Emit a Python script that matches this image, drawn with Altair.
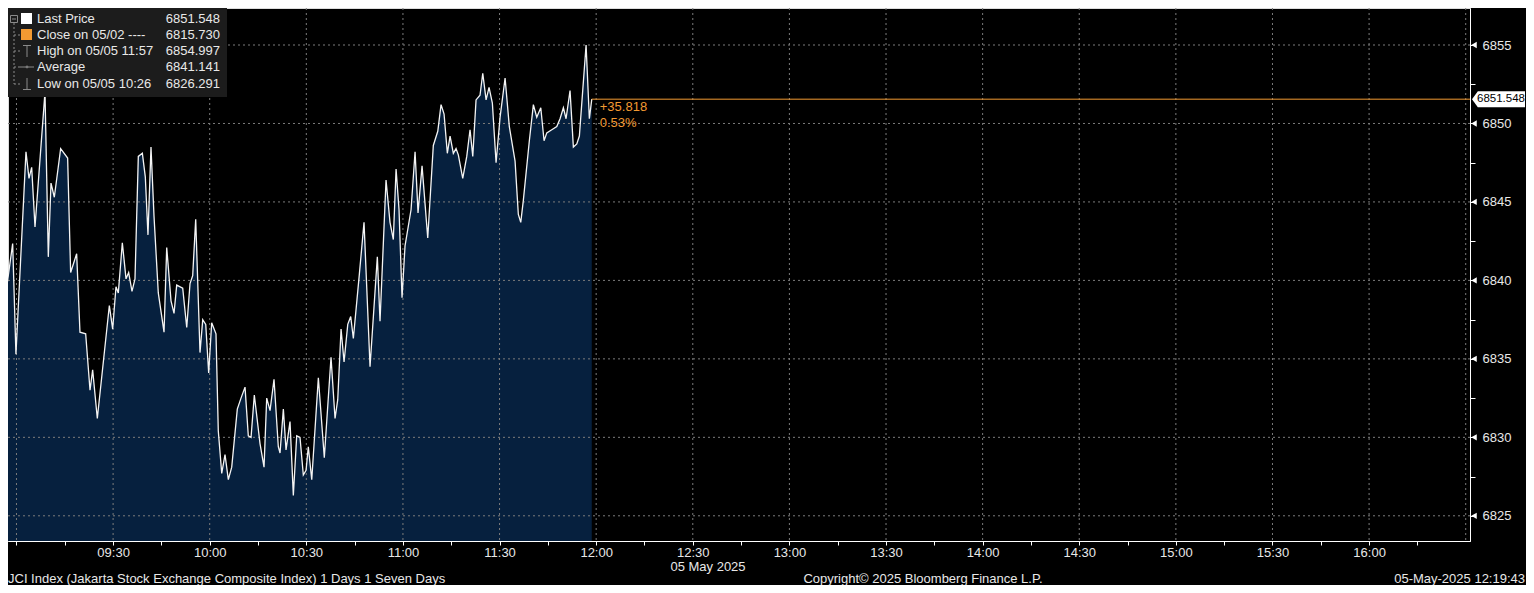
import altair as alt
import pandas as pd

DAY = "2025-05-05"

# ---- series (time of day, index level) ----
times = [
    "08:55:00", "08:58:49", "08:59:50", "09:02:57", "09:03:53", "09:04:43", "09:05:45", "09:08:51",
    "09:09:53", "09:10:43", "09:11:45", "09:13:43", "09:15:53", "09:16:49", "09:18:41", "09:19:43",
    "09:21:29", "09:22:50", "09:23:39", "09:25:06", "09:28:50", "09:29:52", "09:30:54", "09:31:37",
    "09:32:52", "09:34:01", "09:34:50", "09:35:52", "09:36:48", "09:37:50", "09:39:05", "09:40:00",
    "09:40:50", "09:41:46", "09:42:42", "09:44:02", "09:45:49", "09:46:39", "09:47:59", "09:48:55",
    "09:49:45", "09:51:37", "09:52:52", "09:53:53", "09:54:43", "09:55:39", "09:56:59", "09:57:50",
    "09:58:46", "09:59:41", "10:00:37", "10:01:57", "10:02:40", "10:03:44", "10:04:45", "10:05:47",
    "10:06:50", "10:08:34", "10:09:43", "10:10:58", "10:11:59", "10:12:50", "10:13:51", "10:15:37",
    "10:16:52", "10:17:42", "10:18:44", "10:19:58", "10:21:18", "10:21:50", "10:22:52", "10:23:42",
    "10:24:56", "10:25:58", "10:27:01", "10:28:02", "10:29:04", "10:29:55", "10:30:37", "10:31:41",
    "10:33:44", "10:35:35", "10:37:40", "10:38:55", "10:39:45", "10:40:47", "10:41:43", "10:42:52",
    "10:43:47", "10:44:36", "10:46:28", "10:47:55", "10:49:47", "10:52:03", "10:52:53", "10:54:45",
    "10:55:59", "10:57:01", "10:57:52", "10:58:47", "10:59:43", "11:00:39", "11:02:31", "11:03:46",
    "11:04:41", "11:05:56", "11:07:42", "11:09:26", "11:10:49", "11:11:50", "11:12:46", "11:13:47",
    "11:14:38", "11:15:39", "11:16:29", "11:17:12", "11:18:34", "11:19:49", "11:20:50", "11:21:41",
    "11:22:42", "11:23:56", "11:24:47", "11:25:49", "11:26:44", "11:27:46", "11:28:55", "11:30:10",
    "11:31:43", "11:33:02", "11:34:49", "11:35:50", "11:36:35", "11:37:23", "11:39:15", "11:40:30",
    "11:41:33", "11:42:48", "11:43:49", "11:44:40", "11:46:13", "11:47:46", "11:48:47", "11:49:49",
    "11:50:39", "11:51:53", "11:52:55", "11:53:59", "11:54:47", "11:56:52", "11:57:53", "11:58:38",
]
prices = [
    6836.6, 6842.35, 6835.3, 6848.2, 6846.5, 6847.2, 6843.4, 6852.0,
    6841.5, 6846.2, 6845.3, 6848.4, 6847.8, 6840.5, 6841.7, 6836.7,
    6836.6, 6833.0, 6834.3, 6831.2, 6838.4, 6836.9, 6839.6, 6839.2,
    6842.4, 6840.1, 6840.5, 6839.3, 6840.1, 6847.9, 6848.1, 6846.6,
    6842.9, 6848.5, 6844.1, 6839.2, 6836.7, 6842.1, 6838.7, 6837.9,
    6839.7, 6839.5, 6837.0, 6839.8, 6840.3, 6843.9, 6835.4, 6837.5,
    6837.2, 6834.1, 6837.3, 6836.6, 6830.4, 6827.7, 6828.9, 6827.3,
    6828.1, 6831.8, 6832.5, 6833.2, 6830.1, 6830.0, 6832.7, 6829.6,
    6828.1, 6832.5, 6831.7, 6833.7, 6829.4, 6829.0, 6831.8, 6829.2,
    6831.0, 6826.3, 6830.1, 6830.0, 6827.6, 6827.9, 6829.4, 6827.3,
    6833.8, 6828.7, 6835.1, 6831.2, 6832.4, 6836.9, 6834.8, 6837.2,
    6837.7, 6836.3, 6840.4, 6843.7, 6834.5, 6841.5, 6837.4, 6846.4,
    6843.7, 6842.6, 6847.1, 6844.5, 6838.9, 6842.2, 6844.5, 6848.2,
    6844.3, 6847.3, 6842.7, 6848.6, 6849.5, 6851.2, 6850.6, 6848.1,
    6849.2, 6848.1, 6848.4, 6848.0, 6846.5, 6847.9, 6849.6, 6847.9,
    6851.5, 6851.8, 6853.2, 6851.5, 6852.3, 6851.3, 6847.5, 6850.4,
    6852.9, 6849.8, 6847.6, 6844.2, 6843.7, 6845.1, 6848.9, 6851.2,
    6850.4, 6851.0, 6848.9, 6849.4, 6849.6, 6849.8, 6850.3, 6851.0,
    6850.3, 6852.1, 6848.5, 6848.7, 6849.2, 6855.0, 6850.3, 6851.548,
]

last_time = "11:58:38"
last_price = 6851.548
last_price_text = "6851.548"
change_abs = "+35.818"
change_pct = "0.53%"

x_domain = ["08:57:22", "16:31:20"]
y_domain = [6823.394, 6857.358]

grid_times = ["09:00", "09:30", "10:00", "10:30", "11:00", "11:30", "12:00", "12:30",
              "13:00", "13:30", "14:00", "14:30", "15:00", "15:30", "16:00", "16:30"]
tick_times = ["09:00", "09:15", "09:30", "09:45", "10:00", "10:15", "10:30", "10:45",
              "11:00", "11:15", "11:30", "11:45", "12:00", "12:15", "12:30", "12:45",
              "13:00", "13:15", "13:30", "13:45", "14:00", "14:15", "14:30", "14:45",
              "15:00", "15:15", "15:30", "15:45", "16:00", "16:15"]
x_labels = ["09:30", "10:00", "10:30", "11:00", "11:30", "12:00", "12:30",
            "13:00", "13:30", "14:00", "14:30", "15:00", "15:30", "16:00"]
y_grid = [6825, 6830, 6835, 6840, 6845, 6850, 6855]
y_ticks = [6825, 6827.5, 6830, 6832.5, 6835, 6837.5, 6840, 6842.5, 6845, 6847.5,
           6850, 6852.5, 6855, 6857.5]

legend_names = ["Last Price", "Close on 05/02 ----", "High on 05/05 11:57", "Average", "Low on 05/05 10:26"]
legend_values = ["6851.548", "6815.730", "6854.997", "6841.141", "6826.291"]

date_label = "05 May 2025"
footer_left = "JCI Index (Jakarta Stock Exchange Composite Index) 1 Days 1 Seven Days"
footer_mid = "Copyright\u00a9 2025 Bloomberg Finance L.P."
footer_right = "05-May-2025 12:19:43"

# ---- styling ----
W, H = 1462, 533
FONT = "Liberation Sans"
BG = "#000000"
AREA = "#06203e"
LINE = "#f4f4f4"
GRID = "#7c7c7c"
ORANGE = "#f39a32"
TXT = "#e8e8e8"
LEG_BG = "#1c1c1c"
ICON = "#8a8a8a"


def ts(s):
    return f"{DAY}T{s}" if len(s) == 8 else f"{DAY}T{s}:00"


def dt(s):
    parts = [int(v) for v in s.split(":")]
    while len(parts) < 3:
        parts.append(0)
    return alt.DateTime(year=2025, month=5, date=5, hours=parts[0], minutes=parts[1], seconds=parts[2])


xscale = alt.Scale(domain=[dt(x_domain[0]), dt(x_domain[1])])
yscale = alt.Scale(domain=y_domain, zero=False, nice=False)

label_list = "[" + ",".join(f"'{s}'" for s in x_labels) + "]"
xaxis = alt.Axis(
    orient="bottom", values=[dt(s) for s in tick_times], title=None, grid=False,
    labelExpr=f"indexof({label_list}, timeFormat(datum.value, '%H:%M')) >= 0 ? timeFormat(datum.value, '%H:%M') : ''",
    tickSize=4, tickColor="#ffffff", domainColor="#ffffff", domainWidth=1,
    labelColor=TXT, labelFont=FONT, labelFontSize=13, labelPadding=1,
    labelOverlap=False, labelFlush=False,
)
yaxis = alt.Axis(
    orient="right", values=y_ticks, title=None, grid=False,
    labelExpr="datum.value % 5 == 0 ? format(datum.value, 'd') : ''",
    tickSize=5, tickColor="#ffffff", domainColor="#ffffff", domainWidth=1,
    labelColor=TXT, labelFont=FONT, labelFontSize=13, labelPadding=7,
    labelOverlap=False, labelFlush=False,
)

X = alt.X("t:T", scale=xscale, axis=xaxis)
Y = alt.Y("p:Q", scale=yscale, axis=yaxis)

df = pd.DataFrame({"t": [ts(s) for s in times], "p": prices})
df_last = pd.DataFrame({"t": [ts(last_time)], "p": [last_price],
                        "a": [change_abs], "c": [change_pct], "l": [last_price_text]})

layers = []

# area fill under the price line
layers.append(alt.Chart(df).mark_area(color=AREA, clip=True).encode(x=X, y=Y, y2=alt.value(H)))

# dotted grid
layers.append(
    alt.Chart(pd.DataFrame({"t": [ts(s) for s in grid_times]}))
    .mark_rule(color=GRID, strokeDash=[2, 3], strokeWidth=1)
    .encode(x=X, y=alt.value(0), y2=alt.value(H))
)
layers.append(
    alt.Chart(pd.DataFrame({"p": y_grid}))
    .mark_rule(color=GRID, strokeDash=[2, 3], strokeWidth=1)
    .encode(y=Y, x=alt.value(0), x2=alt.value(W))
)

# price line
layers.append(alt.Chart(df).mark_line(color=LINE, strokeWidth=1.3, clip=True).encode(x=X, y=Y))

# last price orange line and change texts
layers.append(
    alt.Chart(df_last).mark_rule(color=ORANGE, strokeWidth=1)
    .encode(x=X, x2=alt.value(W), y=Y)
)
layers.append(
    alt.Chart(df_last).mark_text(align="left", baseline="middle", dx=8, dy=8,
                                 color=ORANGE, font=FONT, fontSize=13)
    .encode(x=X, y=Y, text="a:N")
)
layers.append(
    alt.Chart(df_last).mark_text(align="left", baseline="middle", dx=8, dy=24,
                                 color=ORANGE, font=FONT, fontSize=13)
    .encode(x=X, y=Y, text="c:N")
)

# major tick triangles on the right axis
layers.append(
    alt.Chart(pd.DataFrame({"p": y_grid}))
    .mark_point(shape="triangle-left", filled=True, color="#ffffff", size=40, opacity=1)
    .encode(y=Y, x=alt.value(W + 4))
)

# last price tag
TAG = "M -1 0 L -0.78 -0.3 L 1 -0.3 L 1 0.3 L -0.78 0.3 Z"
layers.append(
    alt.Chart(df_last).mark_point(shape=TAG, filled=True, color="#ffffff", size=2809, opacity=1, strokeWidth=0)
    .encode(y=Y, x=alt.value(1490.5))
)
layers.append(
    alt.Chart(df_last).mark_text(align="left", baseline="middle", color="#000000", font=FONT, fontSize=11.5)
    .encode(y=Y, x=alt.value(1469), text="l:N")
)

# legend box
one = pd.DataFrame({"k": [0]})
layers.append(
    alt.Chart(one).mark_rect(color=LEG_BG)
    .encode(x=alt.value(0), x2=alt.value(219), y=alt.value(0), y2=alt.value(89))
)
row_y = [11, 27, 43, 59, 76]
for name, val, yy in zip(legend_names, legend_values, row_y):
    layers.append(
        alt.Chart(pd.DataFrame({"s": [name]})).mark_text(align="left", baseline="middle", color=TXT,
                                                         font=FONT, fontSize=13)
        .encode(x=alt.value(29), y=alt.value(yy), text="s:N")
    )
    layers.append(
        alt.Chart(pd.DataFrame({"s": [val]})).mark_text(align="right", baseline="middle", color=TXT,
                                                        font=FONT, fontSize=13)
        .encode(x=alt.value(212), y=alt.value(yy), text="s:N")
    )

# legend icons
def seg(x1, y1, x2, y2, color=ICON, dash=None, w=1):
    kw = dict(color=color, strokeWidth=w)
    if dash:
        kw["strokeDash"] = dash
    return alt.Chart(one).mark_rule(**kw).encode(
        x=alt.value(x1), y=alt.value(y1), x2=alt.value(x2), y2=alt.value(y2))


layers.append(seg(6, 15, 6, 76, dash=[2, 2]))
for yy in row_y[1:]:
    layers.append(seg(6, yy, 12, yy, dash=[2, 2]))
layers.append(
    alt.Chart(one).mark_rect(fill=LEG_BG, stroke=ICON, strokeWidth=1)
    .encode(x=alt.value(2.5), x2=alt.value(9.5), y=alt.value(7.5), y2=alt.value(14.5))
)
layers.append(seg(4, 11, 8, 11))
layers.append(
    alt.Chart(one).mark_rect(color="#ffffff")
    .encode(x=alt.value(13), x2=alt.value(24), y=alt.value(5), y2=alt.value(16))
)
layers.append(
    alt.Chart(one).mark_rect(color=ORANGE)
    .encode(x=alt.value(13), x2=alt.value(24), y=alt.value(21), y2=alt.value(32))
)
layers.append(seg(15, 37.5, 23, 37.5))
layers.append(seg(19, 37.5, 19, 49))
layers.append(seg(12, 59, 26, 59))
layers.append(
    alt.Chart(one).mark_point(shape="circle", filled=True, color=ICON, size=8)
    .encode(x=alt.value(19), y=alt.value(59))
)
layers.append(seg(19, 70, 19, 81.5))
layers.append(seg(15, 81.5, 23, 81.5))

# texts below the axis
layers.append(
    alt.Chart(pd.DataFrame({"s": [date_label]})).mark_text(align="center", baseline="middle", color=TXT,
                                                           font=FONT, fontSize=13)
    .encode(x=alt.value(700), y=alt.value(559), text="s:N")
)
layers.append(
    alt.Chart(pd.DataFrame({"s": [footer_left]})).mark_text(align="left", baseline="middle", color=TXT,
                                                            font=FONT, fontSize=13)
    .encode(x=alt.value(0), y=alt.value(571), text="s:N")
)
layers.append(
    alt.Chart(pd.DataFrame({"s": [footer_mid]})).mark_text(align="center", baseline="middle", color=TXT,
                                                           font=FONT, fontSize=13)
    .encode(x=alt.value(915), y=alt.value(571), text="s:N")
)
layers.append(
    alt.Chart(pd.DataFrame({"s": [footer_right]})).mark_text(align="right", baseline="middle", color=TXT,
                                                             font=FONT, fontSize=13)
    .encode(x=alt.value(1517), y=alt.value(571), text="s:N")
)

chart = (
    alt.layer(*layers)
    .properties(
        width=W, height=H,
        padding={"left": 0, "top": 0, "right": 56, "bottom": 44},
        autosize=alt.AutoSizeParams(type="none"),
        background=BG,
    )
    .configure_view(strokeWidth=0, fill=BG)
    .configure(font=FONT)
)

chart.save("out.html", embed_options={"renderer": "svg", "actions": False})
